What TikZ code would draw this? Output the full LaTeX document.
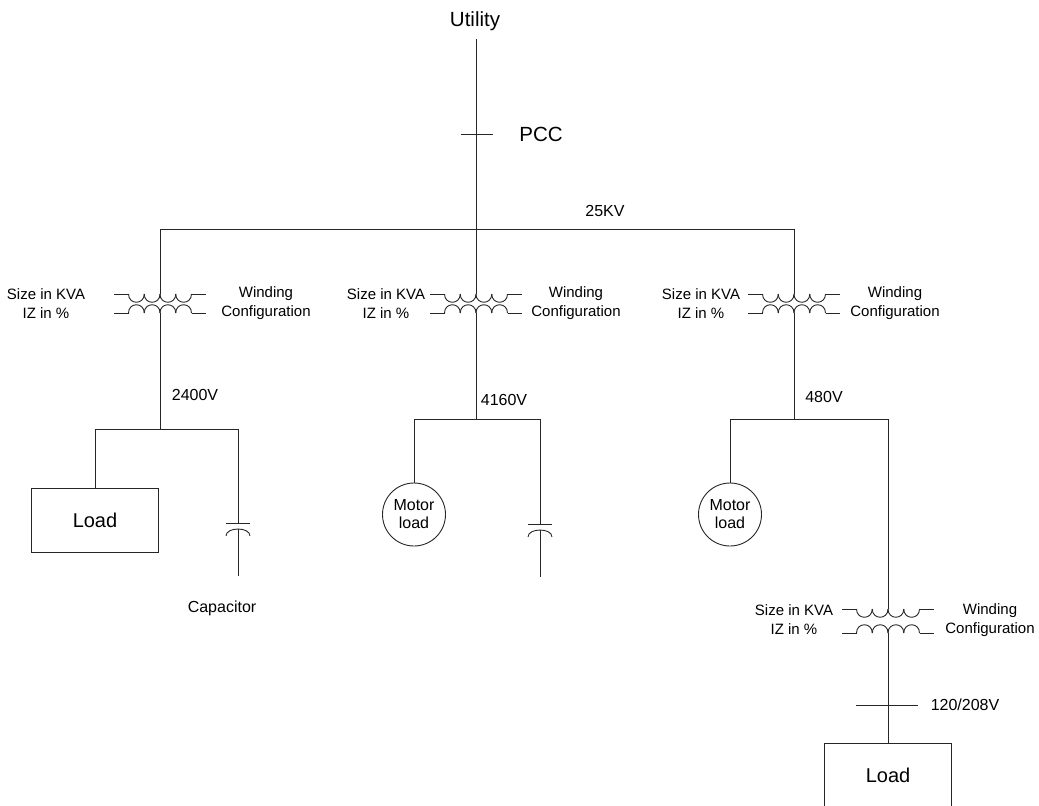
\documentclass[tikz,border=0pt]{standalone}
\usepackage{fontspec}
\setmainfont{Liberation Sans}
\usetikzlibrary{shapes.geometric}

\begin{document}
\begin{tikzpicture}[x=1pt,y=-1pt,line width=0.9pt]
    \tikzset{%
      wire/.style={draw=black!85},
      big/.style={font=\fontsize{20.5}{24}\selectfont, inner sep=0pt},
      lbl/.style={font=\fontsize{15}{19}\selectfont, inner sep=0pt,
        align=center},
      volt/.style={font=\fontsize{16}{19}\selectfont, inner sep=0pt},
      loadbox/.style={draw=black!85, minimum width=127pt, minimum
        height=64pt, inner sep=0pt, font=\fontsize{20}{24}\selectfont},
      motor/.style={draw=black!85, circle, minimum size=63pt, inner
        sep=0pt, align=center, font=\fontsize{16}{18}\selectfont},
      pics/trafo/.style={code={
          \coordinate (-top) at (0,0);
          \coordinate (-bot) at (0,#1);
          \draw[wire] (-46,0) -- (-31.5,0);
          \draw[wire] (31.5,0) -- (46,0);
          \draw[wire] (-46,#1) -- (-31.5,#1);
          \draw[wire] (31.5,#1) -- (46,#1);
          \foreach \i in {0,...,3}{
            \draw[wire] (-31.5+15.75*\i,0) .. controls (-31.5+15.75*\i,11)
              and (-15.75+15.75*\i,11) .. (-15.75+15.75*\i,0);
            \draw[wire] (-31.5+15.75*\i,#1) .. controls (-31.5+15.75*\i,#1-11)
              and (-15.75+15.75*\i,#1-11) .. (-15.75+15.75*\i,#1);
          }
        }},
      pics/capac/.style={code={
          \coordinate (-top) at (0,0);
          \coordinate (-in) at (0,6);
          \coordinate (-bot) at (0,53);
          \draw[wire] (-12,0) -- (12,0);
          \draw[wire] (-12,13) .. controls (-12,3.7) and (12,3.7) .. (12,13);
          \draw[wire] (-in) -- (-bot);
        }},
    }
    \useasboundingbox (0,0) rectangle (1039,806);

    % utility feed and PCC
    \node[big, anchor=base] (util) at (475,26) {Utility};
    \coordinate (feed) at (476,39);
    \coordinate (pcc) at (476,134);
    \node[big] (pcclbl) at (541,134) {PCC};
    \draw[wire] ([xshift=-15pt]pcc) -- ([xshift=17pt]pcc);

    % 25KV bus
    \coordinate (busA) at (160,229);
    \coordinate (busC) at (794,229);
    \node[volt] (kv25) at (605,211) {25KV};
    \draw[wire] (busA) -- (busC);

    % transformers
    \pic (tA) at (160,294) {trafo=19};
    \pic (tB) at (476,294) {trafo=19};
    \pic (tC) at (794,294) {trafo=19};
    \pic (tD) at (888,609) {trafo=24};
    \draw[wire] (feed) -- (tB-top);
    \draw[wire] (busA) -- (tA-top);
    \draw[wire] (busC) -- (tC-top);

    \node[lbl] (sizeA) at (46,303.5) {Size in KVA\\IZ in \%};
    \node[lbl] (windA) at (266,303.5) {Winding\\Configuration};
    \node[lbl] (sizeB) at (386,303.5) {Size in KVA\\IZ in \%};
    \node[lbl] (windB) at (576,303.5) {Winding\\Configuration};
    \node[lbl] (sizeC) at (701,303.5) {Size in KVA\\IZ in \%};
    \node[lbl] (windC) at (895,303.5) {Winding\\Configuration};
    \node[lbl] (sizeD) at (794,620) {Size in KVA\\IZ in \%};
    \node[lbl] (windD) at (990,620) {Winding\\Configuration};

    % 2400V branch
    \coordinate (jA) at (160,429);
    \coordinate (jA1) at (95,429);
    \coordinate (jA2) at (238,429);
    \node[volt] (vA) at (195,395) {2400V};
    \draw[wire] (tA-bot) -- (jA);
    \draw[wire] (jA1) -- (jA2);
    \node[loadbox] (loadA) at (95,520) {Load};
    \draw[wire] (jA1) -- (loadA.north);
    \pic (capA) at (238,523) {capac};
    \draw[wire] (jA2) -- (capA-top);
    \node[volt, anchor=base] (caplbl) at (222,612.5) {Capacitor};

    % 4160V branch
    \coordinate (jB) at (476,419);
    \coordinate (jB1) at (414,419);
    \coordinate (jB2) at (540,419);
    \node[volt] (vB) at (504,400) {4160V};
    \draw[wire] (tB-bot) -- (jB);
    \draw[wire] (jB1) -- (jB2);
    \node[motor] (motB) at (414,514.5) {Motor\\load};
    \draw[wire] (jB1) -- (motB.north);
    \pic (capB) at (540,524) {capac};
    \draw[wire] (jB2) -- (capB-top);

    % 480V branch
    \coordinate (jC) at (794,419);
    \coordinate (jC1) at (730,419);
    \coordinate (jC2) at (888,419);
    \node[volt] (vC) at (824,397) {480V};
    \draw[wire] (tC-bot) -- (jC);
    \draw[wire] (jC1) -- (jC2);
    \node[motor] (motC) at (730,514.5) {Motor\\load};
    \draw[wire] (jC1) -- (motC.north);
    \draw[wire] (jC2) -- (tD-top);

    % 120/208V branch
    \coordinate (lv) at (888,705);
    \node[volt] (vD) at (965,705) {120/208V};
    \draw[wire] ([xshift=-32pt]lv) -- ([xshift=30pt]lv);
    \node[loadbox] (loadD) at (888,775) {Load};
    \draw[wire] (tD-bot) -- (loadD.north);
  \end{tikzpicture}
\end{document}
